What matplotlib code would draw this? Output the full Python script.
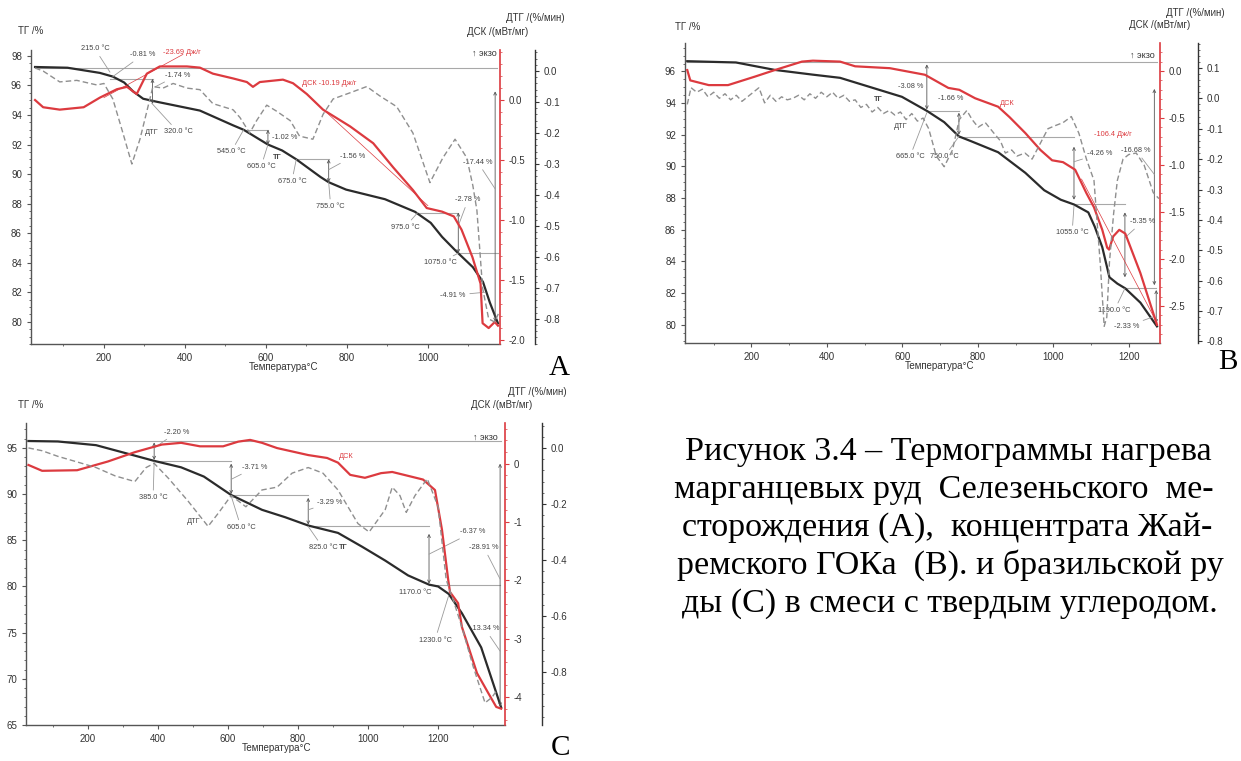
import matplotlib
matplotlib.use("Agg")
import matplotlib.pyplot as plt
from matplotlib.ticker import FixedLocator, AutoMinorLocator, StrMethodFormatter, MultipleLocator

plt.rcParams['font.family'] = ['Liberation Sans', 'DejaVu Sans']
plt.rcParams['axes.unicode_minus'] = False

# ---------------- data ----------------
# Panel A
tA_tg = [30, 110, 190, 222, 250, 272, 297, 330, 437, 519, 545, 605, 640, 675, 700, 735, 755, 798,
         894, 968, 1007, 1035, 1069, 1111, 1136, 1153, 1173]
tgA = [97.25, 97.2, 96.85, 96.6, 96.2, 95.6, 95.1, 94.9, 94.3, 93.3, 93.0, 92.0, 91.6, 91.0, 90.5,
       89.8, 89.45, 88.95, 88.3, 87.45, 86.7, 85.75, 84.8, 83.7, 82.7, 81.3, 79.9]
tA_dsc = [30, 50, 91, 150, 190, 232, 257, 281, 306, 338, 405, 437, 469, 519, 553, 568, 585, 642, 667,
          701, 741, 808, 865, 914, 963, 997, 1035, 1064, 1083, 1110, 1130, 1135, 1150, 1165, 1173]
dscA = [0.0, -0.06, -0.08, -0.06, 0.02, 0.09, 0.11, 0.05, 0.22, 0.28, 0.28, 0.27, 0.22, 0.18, 0.15,
        0.11, 0.15, 0.17, 0.14, 0.05, -0.08, -0.22, -0.36, -0.56, -0.75, -0.9, -0.93, -0.97, -1.08,
        -1.31, -1.53, -1.86, -1.9, -1.85, -1.88]
tA_dtg = [30, 50, 91, 133, 183, 200, 222, 247, 269, 289, 306, 321, 346, 371, 405, 437, 469, 519, 536,
          560, 577, 602, 627, 660, 683, 716, 741, 766, 808, 849, 881, 923, 963, 1005, 1037, 1067, 1096,
          1111, 1121, 1135, 1150, 1165, 1175]
dtgA = [0.01, 0.0, -0.035, -0.03, -0.045, -0.04, -0.09, -0.2, -0.3, -0.22, -0.13, -0.05, -0.055, -0.04,
        -0.055, -0.06, -0.105, -0.125, -0.15, -0.2, -0.16, -0.11, -0.13, -0.16, -0.21, -0.22, -0.14,
        -0.09, -0.07, -0.05, -0.08, -0.115, -0.2, -0.36, -0.28, -0.22, -0.28, -0.37, -0.45, -0.7, -0.8,
        -0.81, -0.78]

# Panel B
tB_tg = [30, 159, 262, 363, 435, 517, 599, 666, 711, 750, 782, 854, 926, 976, 1020, 1055, 1093, 1110,
         1130, 1149, 1170, 1191, 1231, 1275]
tgB = [96.65, 96.57, 96.1, 95.8, 95.6, 95.0, 94.4, 93.5, 92.8, 91.9, 91.6, 90.9, 89.6, 88.5, 87.9, 87.6,
       87.1, 86.2, 84.9, 83.0, 82.6, 82.3, 81.4, 79.9]
tB_dsc = [30, 38, 87, 138, 209, 262, 334, 363, 435, 475, 567, 660, 722, 751, 793, 854, 884, 926, 966,
          997, 1026, 1058, 1088, 1108, 1130, 1143, 1148, 1159, 1175, 1191, 1231, 1275]
dscB = [0.01, -0.1, -0.15, -0.15, -0.06, 0.01, 0.1, 0.11, 0.1, 0.05, 0.03, -0.04, -0.18, -0.2, -0.29,
        -0.38, -0.49, -0.66, -0.84, -0.95, -0.97, -1.05, -1.3, -1.45, -1.69, -1.88, -1.9, -1.76, -1.69,
        -1.73, -2.15, -2.7]
tB_dtg = [30, 40, 55, 70, 85, 100, 115, 130, 145, 160, 175, 190, 205, 220, 235, 250, 265, 280, 295, 310,
          325, 340, 355, 370, 385, 400, 415, 430, 445, 460, 475, 490, 505, 520, 535, 550, 565, 580, 595,
          610, 625, 640, 655, 670, 690, 711, 733, 751, 771, 785, 801, 820, 843, 860, 873, 890, 904, 925,
          944, 965, 986, 1005, 1026, 1048, 1068, 1088, 1108, 1125, 1135, 1142, 1149, 1160, 1170, 1185,
          1200, 1220, 1241, 1265, 1280]
dtgB = [-0.02, 0.035, 0.02, 0.03, 0.005, 0.02, 0.0, 0.015, -0.005, 0.01, -0.01, 0.005, 0.02, 0.035,
        -0.015, 0.01, -0.01, 0.005, -0.005, 0.0, 0.01, -0.005, 0.015, 0.0, 0.02, 0.005, 0.02, 0.0, 0.01,
        -0.01, -0.005, -0.03, -0.02, -0.045, -0.03, -0.05, -0.04, -0.055, -0.045, -0.07, -0.05, -0.075,
        -0.065, -0.1, -0.19, -0.225, -0.17, -0.07, -0.04, -0.07, -0.095, -0.08, -0.115, -0.14, -0.18,
        -0.17, -0.19, -0.18, -0.2, -0.15, -0.1, -0.09, -0.08, -0.06, -0.115, -0.2, -0.27, -0.55, -0.75,
        -0.72, -0.54, -0.38, -0.27, -0.2, -0.185, -0.18, -0.22, -0.31, -0.33]

# Panel C
tC_tg = [30, 114, 223, 311, 389, 466, 531, 609, 697, 763, 829, 914, 983, 1049, 1114, 1174, 1200, 1230,
         1268, 1323, 1380]
tgC = [95.75, 95.7, 95.3, 94.4, 93.6, 92.9, 91.9, 89.9, 88.3, 87.5, 86.6, 85.8, 84.3, 82.8, 81.2, 80.2,
       80.0, 79.2, 77.1, 73.4, 66.9]
tC_dsc = [30, 69, 169, 257, 334, 411, 466, 520, 586, 629, 663, 697, 740, 829, 883, 914, 949, 991, 1037,
          1069, 1103, 1157, 1191, 1211, 1229, 1234, 1257, 1268, 1311, 1343, 1366, 1380]
dscC = [-0.02, -0.12, -0.11, 0.04, 0.2, 0.33, 0.36, 0.3, 0.3, 0.38, 0.41, 0.36, 0.27, 0.15, 0.1, 0.02,
        -0.19, -0.24, -0.16, -0.14, -0.19, -0.27, -0.45, -1.13, -2.0, -2.2, -2.39, -2.8, -3.59, -3.93,
        -4.17, -4.2]
tC_dtg = [30, 69, 114, 169, 223, 278, 334, 366, 389, 431, 486, 543, 574, 609, 651, 697, 740, 783, 829,
          871, 914, 971, 1003, 1049, 1069, 1091, 1109, 1134, 1169, 1200, 1223, 1245, 1268, 1300, 1334,
          1354, 1365]
dtgC = [0.0, -0.01, -0.03, -0.05, -0.07, -0.1, -0.12, -0.07, -0.055, -0.11, -0.19, -0.28, -0.23, -0.17,
        -0.21, -0.15, -0.14, -0.09, -0.07, -0.09, -0.15, -0.27, -0.3, -0.22, -0.14, -0.17, -0.23, -0.17,
        -0.11, -0.21, -0.47, -0.55, -0.64, -0.78, -0.91, -0.89, -0.87]

caption_lines = ["Рисунок 3.4 – Термограммы нагрева",
                 "марганцевых руд  Селезеньского  ме-",
                 "сторождения (А),  концентрата Жай-",
                 "ремского ГОКа  (В). и бразильской ру",
                 "ды (С) в смеси с твердым углеродом."]

# ---------------- styling ----------------
W, H = 1241, 761
RED = '#dc3a3f'
TGC = '#2b2b2b'
DTGC = '#8f8f8f'
SP = '#555555'
NOTE = '#444444'
LEAD = '#9a9a9a'

fig = plt.figure(figsize=(W / 100, H / 100), dpi=100)


def rect(l, t, r, b):
    return [l / W, 1 - b / H, (r - l) / W, (b - t) / H]


def ftext(px, py, s, **kw):
    fig.text(px / W, 1 - py / H, s, **kw)


def panel(r, xlim, tg_lim, dsc_lim, dtg_lim, tg_major, tg_minor, dsc_major, dsc_fmt,
          dtg_major, dtg_fmt, dtg_off_px, xt):
    ax = fig.add_axes(rect(*r))
    ax.set_xlim(*xlim)
    ax.set_ylim(*tg_lim)
    for s in ['top', 'right']:
        ax.spines[s].set_visible(False)
    for s in ['left', 'bottom']:
        ax.spines[s].set_color(SP)
        ax.spines[s].set_linewidth(1.0)
    ax.xaxis.set_major_locator(FixedLocator(xt))
    ax.xaxis.set_minor_locator(MultipleLocator(100))
    ax.yaxis.set_major_locator(MultipleLocator(tg_major))
    ax.yaxis.set_minor_locator(MultipleLocator(tg_minor))
    ax.tick_params(which='both', direction='out', colors=SP, labelcolor='#333333', labelsize=7)
    ax.tick_params(which='major', length=3, width=0.8)
    ax.tick_params(which='minor', length=1.6, width=0.6)
    ax.patch.set_alpha(0)

    a2 = ax.twinx()
    a2.set_ylim(*dsc_lim)
    for s in ['top', 'left', 'bottom']:
        a2.spines[s].set_visible(False)
    a2.spines['right'].set_color(RED)
    a2.spines['right'].set_linewidth(1.2)
    a2.yaxis.set_major_locator(MultipleLocator(dsc_major))
    a2.yaxis.set_minor_locator(AutoMinorLocator(5))
    a2.yaxis.set_major_formatter(StrMethodFormatter(dsc_fmt))
    a2.tick_params(which='both', direction='out', colors=RED, labelcolor='#333333', labelsize=7)
    a2.tick_params(which='major', length=3, width=0.8)
    a2.tick_params(which='minor', length=1.5, width=0.5)

    a3 = ax.twinx()
    a3.set_ylim(*dtg_lim)
    for s in ['top', 'left', 'bottom']:
        a3.spines[s].set_visible(False)
    a3.spines['right'].set_position(('outward', dtg_off_px * 0.72))
    a3.spines['right'].set_color('#333333')
    a3.spines['right'].set_linewidth(1.0)
    a3.yaxis.set_major_locator(MultipleLocator(dtg_major))
    a3.yaxis.set_minor_locator(AutoMinorLocator(5))
    a3.yaxis.set_major_formatter(StrMethodFormatter(dtg_fmt))
    a3.tick_params(which='both', direction='out', colors='#333333', labelcolor='#333333', labelsize=7)
    a3.tick_params(which='major', length=3, width=0.8)
    a3.tick_params(which='minor', length=1.5, width=0.5)
    return ax, a2, a3


def draw_curves(ax, a2, a3, ttg, tg, tdsc, dsc, tdtg, dtg):
    a3.plot(tdtg, dtg, color=DTGC, lw=1.0, dashes=(4, 2.2), zorder=2)
    ax.plot(ttg, tg, color=TGC, lw=1.6, zorder=3)
    a2.plot(tdsc, dsc, color=RED, lw=1.6, zorder=3)


def hline(ax, x1, x2, y):
    ax.plot([x1, x2], [y, y], color='#a8a8a8', lw=0.8, zorder=1)


def varrow(ax, x, y1, y2):
    ax.annotate('', xy=(x, y2), xytext=(x, y1),
                arrowprops=dict(arrowstyle='<->', color='#555555', lw=0.6,
                                mutation_scale=5, shrinkA=0, shrinkB=0))


def note(ax, s, x, y, to=None, color=NOTE, ha='center', size=5.3, weight='normal'):
    if to is None:
        ax.text(x, y, s, color=color, fontsize=size, ha=ha, va='center', zorder=5,
                fontweight=weight, clip_on=False)
    else:
        ax.annotate(s, xy=to, xytext=(x, y), color=color, fontsize=size, ha=ha, va='center',
                    zorder=5, annotation_clip=False,
                    arrowprops=dict(arrowstyle='-', color=LEAD, lw=0.6, shrinkA=1, shrinkB=0))


# ---------------- Panel A ----------------
axA, a2A, a3A = panel((31, 50, 500, 344), (20, 1178), (78.5, 98.4), (-2.033, 0.417), (-0.881, 0.068),
                      2, 0.5, 0.5, '{x:.1f}', 0.1, '{x:.1f}', 35, [200, 400, 600, 800, 1000])
draw_curves(axA, a2A, a3A, tA_tg, tgA, tA_dsc, dscA, tA_dtg, dtgA)
hline(axA, 30, 1170, 97.2)
hline(axA, 215, 320, 96.45)
hline(axA, 545, 605, 93.0)
hline(axA, 675, 755, 91.0)
hline(axA, 975, 1075, 87.4)
hline(axA, 1075, 1172, 84.65)
varrow(axA, 320, 96.45, 94.75)
varrow(axA, 605, 93.0, 92.0)
varrow(axA, 755, 91.0, 89.45)
varrow(axA, 1075, 87.4, 84.65)
varrow(axA, 1166, 95.6, 80.0)
a2A.plot([200, 395], [0.02, 0.38], color=RED, lw=0.5)
a2A.plot([684, 1000], [0.1, -0.88], color=RED, lw=0.5)
note(axA, '215.0 °C', 178, 98.47, (215, 96.9))
note(axA, '-0.81 %', 296, 98.07, (222, 96.6))
note(axA, '-23.69 Дж/г', 393, 98.2, color=RED)
note(axA, '-1.74 %', 383, 96.7, (326, 95.9))
note(axA, 'ДТГ', 318, 92.8)
note(axA, '320.0 °C', 383, 92.86, (318, 94.8))
note(axA, '545.0 °C', 514, 91.5, (545, 93.0))
note(axA, '-1.02 %', 647, 92.5, (605, 92.6))
note(axA, '605.0 °C', 588, 90.5, (605, 92.0))
note(axA, 'ТГ', 627, 91.1, weight='bold')
note(axA, '675.0 °C', 664, 89.5, (675, 91.0))
note(axA, 'ДСК -10.19 Дж/г', 689, 96.1, color=RED, ha='left')
note(axA, '-1.56 %', 815, 91.2, (755, 90.3))
note(axA, '-17.44 %', 1123, 90.8, (1166, 89.0))
note(axA, '755.0 °C', 760, 87.8, (755, 89.45))
note(axA, '-2.78 %', 1099, 88.25, (1075, 86.5))
note(axA, '975.0 °C', 943, 86.4, (975, 87.4))
note(axA, '1075.0 °C', 1030, 84.0, (1075, 84.65))
note(axA, '-4.91 %', 1062, 81.8, (1140, 82.0))
ftext(31, 31, 'ТГ /%', fontsize=7, ha='center', va='center', color='#333333')
ftext(535, 18, 'ДТГ /(%/мин)', fontsize=7, ha='center', va='center', color='#333333')
ftext(498, 32, 'ДСК /(мВт/мг)', fontsize=7, ha='center', va='center', color='#333333')
ftext(497, 53, '↑ экзо', fontsize=6.5, ha='right', va='center', color='#333333')
ftext(284, 367, 'Температура°C', fontsize=7, ha='center', va='center', color='#333333')
ftext(559, 368, 'A', fontsize=21, ha='center', va='center', family='Liberation Serif')

# ---------------- Panel B ----------------
axB, a2B, a3B = panel((685, 43, 1160, 343), (24, 1283), (78.85, 97.8), (-2.894, 0.298), (-0.805, 0.182),
                      2, 0.5, 0.5, '{x:.1f}', 0.1, '{x:.1f}', 38, [200, 400, 600, 800, 1000, 1200])
draw_curves(axB, a2B, a3B, tB_tg, tgB, tB_dsc, dscB, tB_dtg, dtgB)
hline(axB, 30, 1275, 96.6)
hline(axB, 665, 750, 93.5)
hline(axB, 750, 1055, 91.85)
hline(axB, 1055, 1190, 87.6)
hline(axB, 1190, 1272, 82.3)
varrow(axB, 665, 96.45, 93.6)
varrow(axB, 750, 93.4, 92.0)
varrow(axB, 1055, 91.25, 87.9)
varrow(axB, 1190, 87.1, 83.0)
varrow(axB, 1268, 94.9, 82.5)
varrow(axB, 1273, 82.2, 80.1)
a2B.plot([1075, 1275], [-1.15, -2.68], color=RED, lw=0.5)
note(axB, 'ТГ', 536, 94.2, weight='bold')
note(axB, 'ДТГ', 597, 92.5)
note(axB, '-3.08 %', 623, 95.05)
note(axB, '-1.66 %', 727, 94.3)
note(axB, '665.0 °C', 620, 90.6, (665, 93.4))
note(axB, '750.0 °C', 711, 90.6, (750, 91.9))
note(axB, 'ДСК', 878, 94.0, color=RED)
note(axB, '-106.4 Дж/г', 1159, 92.0, color=RED)
note(axB, '-4.26 %', 1122, 90.8, (1055, 90.3))
note(axB, '-16.68 %', 1220, 91.0, (1268, 89.5))
note(axB, '1055.0 °C', 1050, 85.8, (1055, 87.5))
note(axB, '-5.35 %', 1236, 86.5, (1190, 85.5))
note(axB, '1190.0 °C', 1162, 80.9, (1190, 82.3))
note(axB, '-2.33 %', 1194, 79.9, (1265, 80.5))
ftext(688, 27, 'ТГ /%', fontsize=7, ha='center', va='center', color='#333333')
ftext(1195, 13, 'ДТГ /(%/мин)', fontsize=7, ha='center', va='center', color='#333333')
ftext(1160, 25, 'ДСК /(мВт/мг)', fontsize=7, ha='center', va='center', color='#333333')
ftext(1155, 55, '↑ экзо', fontsize=6.5, ha='right', va='center', color='#333333')
ftext(940, 366, 'Температура°C', fontsize=7, ha='center', va='center', color='#333333')
ftext(1228, 362, 'B', fontsize=21, ha='center', va='center', family='Liberation Serif')

# ---------------- Panel C ----------------
axC, a2C, a3C = panel((26, 423, 505, 725), (23, 1391), (65.0, 97.7), (-4.48, 0.70), (-0.989, 0.089),
                      5, 1, 1, '{x:.0f}', 0.2, '{x:.1f}', 37, [200, 400, 600, 800, 1000, 1200])
draw_curves(axC, a2C, a3C, tC_tg, tgC, tC_dsc, dscC, tC_dtg, dtgC)
hline(axC, 30, 1380, 95.8)
hline(axC, 389, 609, 93.6)
hline(axC, 609, 829, 89.9)
hline(axC, 829, 1174, 86.6)
hline(axC, 1174, 1377, 80.2)
varrow(axC, 389, 95.6, 93.7)
varrow(axC, 609, 93.3, 90.0)
varrow(axC, 829, 89.6, 86.7)
varrow(axC, 1174, 85.7, 80.3)
varrow(axC, 1377, 93.3, 67.0)
note(axC, '-2.20 %', 454, 96.7, (389, 95.0))
note(axC, '385.0 °C', 386, 89.6, (389, 93.5))
note(axC, '-3.71 %', 677, 92.9, (609, 91.6))
note(axC, 'ДТГ', 503, 87.0)
note(axC, '605.0 °C', 637, 86.4, (609, 89.8))
note(axC, '-3.29 %', 891, 89.1, (829, 88.3))
note(axC, '825.0 °C', 871, 84.2, (829, 86.5))
note(axC, 'ТГ', 929, 84.2, weight='bold')
note(axC, 'ДСК', 937, 94.1, color=RED)
note(axC, '-6.37 %', 1300, 85.9, (1174, 83.5))
note(axC, '-28.91 %', 1331, 84.2, (1377, 80.8))
note(axC, '1170.0 °C', 1134, 79.3)
note(axC, '1230.0 °C', 1191, 74.2, (1230, 79.0))
note(axC, '-13.34 %', 1334, 75.4, (1377, 73.0))
ftext(31, 405, 'ТГ /%', fontsize=7, ha='center', va='center', color='#333333')
ftext(537, 392, 'ДТГ /(%/мин)', fontsize=7, ha='center', va='center', color='#333333')
ftext(502, 405, 'ДСК /(мВт/мг)', fontsize=7, ha='center', va='center', color='#333333')
ftext(498, 437, '↑ экзо', fontsize=6.5, ha='right', va='center', color='#333333')
ftext(277, 748, 'Температура°C', fontsize=7, ha='center', va='center', color='#333333')
ftext(561, 748, 'C', fontsize=21, ha='center', va='center', family='Liberation Serif')

# ---------------- caption ----------------
cap_x = [948, 944, 947, 950, 950]
cap_y = [460, 498, 536, 574, 612]
for s, cx, cy in zip(caption_lines, cap_x, cap_y):
    ftext(cx, cy, s, fontsize=24.5, ha='center', va='baseline', family='Liberation Serif',
          color='#000000')

fig.savefig('out.png', dpi=100)
